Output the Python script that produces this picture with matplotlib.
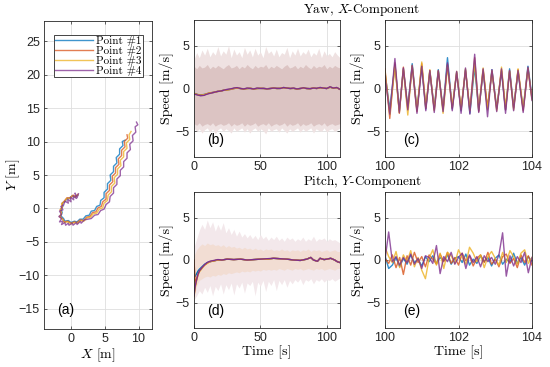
import matplotlib
matplotlib.use('Agg')
import matplotlib.pyplot as plt
import numpy as np

plt.rcParams['mathtext.fontset'] = 'cm'
plt.rcParams['font.family'] = ['Liberation Sans', 'DejaVu Sans']
plt.rcParams['axes.unicode_minus'] = True

# Colores por defecto de MATLAB
colores = ['#0072BD', '#D95319', '#EDB120', '#7E2F8E']
etiquetas = ['Point #1', 'Point #2', 'Point #3', 'Point #4']
serif = 'cmr10'

# --- (a) trayectorias ---
p1_x = [1.0, 0.6, 0.2, -0.2, -0.6, -0.9, -1.3, -1.2, -1.5, -1.3, -1.5, -1.1, -0.9, -0.4, 0.0, 0.5, 0.9, 1.3, 1.8,
        2.2, 2.7, 3.0, 3.5, 3.8, 4.3, 4.4, 4.9, 4.9, 5.4, 5.4, 5.9, 5.8, 6.3, 6.3, 6.8, 6.7, 7.2, 7.2, 7.7, 7.6, 8.0]
p1_y = [2.0, 1.7, 1.9, 1.5, 1.5, 1.0, 0.8, 0.3, -0.1, -0.6, -1.1, -1.5, -1.9, -1.8, -2.1, -1.9, -2.0, -1.6, -1.6,
        -1.1, -1.0, -0.4, -0.3, 0.3, 0.5, 1.2, 1.6, 2.4, 2.9, 3.7, 4.2, 5.0, 5.5, 6.3, 6.8, 7.6, 8.1, 8.9, 9.4, 10.0, 10.2]
p2_x = [1.0, 0.7, 0.3, -0.1, -0.6, -1.0, -1.3, -1.3, -1.6, -1.4, -1.6, -1.2, -1.0, -0.5, 0.0, 0.5, 0.9, 1.4, 1.9,
        2.3, 2.8, 3.2, 3.7, 4.0, 4.5, 4.7, 5.2, 5.2, 5.7, 5.7, 6.2, 6.1, 6.6, 6.6, 7.1, 7.0, 7.5, 7.5, 8.0, 7.9, 8.4, 8.3]
p2_y = [2.1, 1.8, 2.0, 1.6, 1.6, 1.1, 0.8, 0.2, -0.2, -0.7, -1.2, -1.6, -2.0, -1.9, -2.2, -2.0, -2.1, -1.7, -1.8,
        -1.3, -1.2, -0.6, -0.5, 0.1, 0.3, 1.0, 1.4, 2.2, 2.7, 3.5, 4.0, 4.8, 5.3, 6.1, 6.6, 7.4, 7.9, 8.7, 9.2, 10.0, 10.5, 11.0]
p3_x = [1.0, 0.6, 0.2, -0.2, -0.6, -1.0, -1.4, -1.3, -1.6, -1.4, -1.7, -1.2, -1.0, -0.5, 0.0, 0.5, 1.0, 1.4, 1.9,
        2.4, 2.9, 3.3, 3.8, 4.2, 4.7, 4.9, 5.4, 5.5, 6.0, 6.0, 6.5, 6.4, 6.9, 6.9, 7.4, 7.3, 7.8, 7.8, 8.3, 8.2, 8.7, 8.6, 8.9]
p3_y = [2.0, 1.7, 1.9, 1.5, 1.5, 1.0, 0.7, 0.2, -0.2, -0.7, -1.2, -1.7, -2.1, -2.0, -2.3, -2.1, -2.2, -1.8, -1.9,
        -1.4, -1.3, -0.8, -0.7, -0.1, 0.1, 0.8, 1.2, 2.0, 2.5, 3.3, 3.8, 4.6, 5.1, 5.9, 6.4, 7.2, 7.7, 8.5, 9.0, 9.8, 10.3, 11.0, 11.5]
p4_x = [1.1, 0.9, 0.6, 0.8, 0.3, 0.4, -0.1, 0.0, -0.5, -0.4, -0.9, -1.1, -1.5, -1.2, -1.7, -1.4, -1.8, -1.4, -1.7,
        -1.2, -1.4, -0.9, -0.8, -0.4, -0.3, 0.2, 0.3, 0.8, 0.9, 1.4, 1.5, 2.0,
        2.5, 3.0, 3.5, 4.0, 4.4, 4.9, 5.2, 5.7, 5.8, 6.3, 6.3, 6.8, 6.8, 7.3, 7.3, 7.8, 7.8, 8.3, 8.3, 8.8, 8.7,
        9.2, 9.1, 9.6, 9.5, 9.9, 9.7]
p4_y = [2.2, 1.6, 2.3, 1.5, 1.9, 1.3, 1.7, 1.0, 1.4, 0.8, 1.1, 0.5, 0.3, -0.2, -0.4, -0.9, -1.2, -1.5, -2.0,
        -1.9, -2.4, -2.1, -2.5, -2.2, -2.5, -2.2, -2.5, -2.1, -2.4, -1.9, -2.2, -1.7,
        -1.6, -1.5, -1.0, -0.9, -0.3, -0.1, 0.6, 1.0, 1.8, 2.3, 3.1, 3.6, 4.4, 4.9, 5.7, 6.2, 7.0, 7.5, 8.3, 8.8, 9.6,
        10.1, 10.9, 11.4, 12.2, 12.5, 12.9]

# --- (b) yaw, componente X ---
b_up_out = [3.4, 4.2, 3.6, 4.5, 3.9, 4.7, 3.7, 4.3, 3.9, 4.9, 3.8, 4.4, 4.0, 5.0, 3.6, 4.6, 3.9, 4.3, 3.6, 4.8,
            4.0, 4.5, 3.7, 4.7, 3.9, 4.3, 3.6, 4.9, 4.1, 4.4, 3.8, 4.6, 3.7, 4.2, 4.0, 4.8, 3.6, 4.4, 3.9, 4.7,
            3.8, 4.3, 4.0, 4.6, 3.7, 4.2, 3.9, 4.7, 3.6, 4.4, 3.8, 4.1, 3.7, 4.3, 3.9, 3.6]
b_up_in = [2.6, 2.3, 2.7, 2.4, 2.5, 2.8, 2.3, 2.6, 2.4, 2.7, 2.5, 2.3, 2.6, 2.8, 2.4, 2.5, 2.7, 2.3, 2.6, 2.4,
           2.8, 2.5, 2.3, 2.7, 2.4, 2.6, 2.5, 2.8, 2.3, 2.6, 2.4, 2.7, 2.5, 2.3, 2.6, 2.8, 2.4, 2.5, 2.7, 2.3,
           2.6, 2.4, 2.8, 2.5, 2.3, 2.7, 2.4, 2.6, 2.5, 2.8, 2.3, 2.6, 2.4, 2.7, 2.5, 2.4]
b_lo_in = [-4.1, -4.3, -4.0, -4.4, -4.2, -4.1, -4.3, -4.0, -4.4, -4.2, -4.1, -4.3, -4.2, -4.0, -4.4, -4.1, -4.3,
           -4.2, -4.0, -4.4, -4.1, -4.3, -4.2, -4.0, -4.4, -4.2, -4.1, -4.3, -4.0, -4.4, -4.2, -4.1, -4.3, -4.2,
           -4.0, -4.4, -4.1, -4.3, -4.2, -4.0, -4.4, -4.1, -4.3, -4.2, -4.0, -4.4, -4.2, -4.1, -4.3, -4.0, -4.4,
           -4.2, -4.1, -4.3, -4.2, -4.1]
b_lo_out = [-4.6, -5.0, -4.7, -5.2, -4.8, -4.6, -5.1, -4.7, -5.3, -4.8, -4.6, -5.0, -4.7, -4.9, -5.2, -4.6, -5.0,
            -4.8, -4.6, -5.1, -4.7, -5.2, -4.8, -4.6, -5.0, -4.7, -4.9, -5.3, -4.6, -5.0, -4.8, -4.7, -5.1, -4.6,
            -4.9, -5.2, -4.7, -5.0, -4.8, -4.6, -5.1, -4.7, -5.0, -4.8, -4.6, -5.2, -4.7, -4.9, -5.0, -4.6, -5.1,
            -4.8, -4.7, -5.0, -4.8, -4.6]
b_mean = [
    [-0.55, -0.7, -0.75, -0.7, -0.6, -0.5, -0.45, -0.35, -0.3, -0.2, -0.15, -0.1, 0.0, 0.05, 0.0, -0.05, 0.0, 0.02,
     -0.05, 0.0, 0.02, 0.0, -0.03, 0.0, 0.05, 0.0, 0.02, 0.1, 0.05, 0.0, 0.02, -0.05, 0.0, 0.05, 0.0, -0.02, 0.05,
     0.0, 0.1, 0.05, 0.0, 0.15, 0.05, 0.1, -0.1],
    [-0.6, -0.7, -0.8, -0.75, -0.6, -0.5, -0.45, -0.35, -0.3, -0.2, -0.15, -0.1, 0.0, 0.05, 0.0, -0.05, 0.0, 0.02,
     -0.05, 0.0, 0.02, 0.0, -0.03, 0.0, 0.05, 0.0, 0.02, 0.1, 0.05, 0.0, 0.02, -0.05, 0.0, 0.05, 0.0, -0.02, 0.05,
     0.0, 0.1, 0.05, 0.0, 0.15, 0.05, 0.1, -0.1],
    [-0.6, -0.72, -0.8, -0.72, -0.6, -0.5, -0.45, -0.35, -0.3, -0.2, -0.15, -0.1, 0.0, 0.05, 0.0, -0.05, 0.0, 0.02,
     -0.05, 0.0, 0.02, 0.0, -0.03, 0.0, 0.05, 0.0, 0.02, 0.1, 0.05, 0.0, 0.02, -0.05, 0.0, 0.05, 0.0, -0.02, 0.05,
     0.0, 0.1, 0.05, 0.0, 0.15, 0.05, 0.1, -0.1],
    [-0.65, -0.75, -0.85, -0.8, -0.65, -0.55, -0.45, -0.35, -0.3, -0.2, -0.1, -0.05, 0.05, 0.1, 0.0, -0.05, 0.05, 0.0,
     -0.05, 0.05, 0.0, 0.02, -0.05, 0.0, 0.05, 0.02, 0.0, 0.12, 0.05, 0.0, 0.05, -0.05, 0.0, 0.08, 0.0, -0.02, 0.05,
     0.02, 0.12, 0.05, 0.0, 0.2, 0.05, 0.12, -0.1],
]

# --- (c) yaw, zoom 100-104 s ---
c_t = [100.0, 100.13, 100.27, 100.39, 100.5, 100.62, 100.74, 100.87, 101.0, 101.11, 101.22, 101.34, 101.45,
       101.58, 101.7, 101.83, 101.95, 102.07, 102.19, 102.31, 102.44, 102.55, 102.67, 102.79, 102.91, 103.04,
       103.17, 103.28, 103.39, 103.5, 103.62, 103.76, 103.89, 104.0]
c_vals = [
    [1.8, -2.4, 2.8, -2.6, 2.3, -2.2, 2.9, -2.5, 2.6, -2.4, 2.0, -2.3, 2.2, -2.5, 3.6, -2.4, 1.9, -2.6, 2.2, -2.9,
     2.5, -2.6, 2.0, -2.4, 2.2, -2.3, 2.0, -2.5, 2.3, -2.2, 2.0, -2.4, 2.6, -1.0],
    [2.3, -3.5, 3.0, -2.9, 2.5, -2.4, 2.6, -2.7, 2.9, -2.3, 2.1, -2.5, 2.0, -2.4, 2.8, -2.3, 1.8, -2.4, 2.1, -2.5,
     3.6, -2.7, 2.2, -2.2, 2.0, -2.4, 2.2, -2.5, 2.0, -2.3, 2.2, -2.6, 2.3, -1.2],
    [2.0, -3.0, 2.6, -2.8, 2.2, -3.1, 2.7, -2.6, 3.1, -2.2, 2.2, -2.6, 2.1, -2.9, 2.5, -2.1, 2.0, -2.5, 2.3, -2.6,
     3.0, -2.4, 2.4, -2.5, 2.1, -2.6, 2.5, -2.2, 2.1, -2.5, 2.3, -2.3, 2.4, -1.3],
    [1.5, -3.0, 3.5, -2.8, 2.4, -2.5, 2.7, -2.9, 2.6, -2.6, 2.1, -2.8, 2.1, -2.7, 3.0, -2.6, 2.0, -2.9, 2.4, -3.0,
     4.0, -2.8, 2.3, -3.3, 2.2, -2.7, 2.3, -2.9, 2.1, -2.6, 2.1, -2.8, 2.5, -1.4],
]

# --- (d) pitch, componente Y ---
d_up_out = [1.5, 2.5, 3.5, 4.2, 3.6, 4.7, 3.8, 4.5, 3.4, 4.2, 3.5, 4.4, 3.2, 3.8, 3.0, 3.6, 2.8, 3.4, 2.7, 3.1,
            2.6, 3.0, 2.5, 2.9, 2.4, 3.0, 2.5, 2.8, 2.3, 2.7, 2.4, 2.8, 2.3, 2.6, 2.2, 2.7, 2.4, 2.6, 2.2, 2.5,
            2.3, 2.7, 2.2, 2.5, 2.3, 2.8, 2.2, 2.5, 2.4, 2.6, 2.2, 2.5, 2.3, 2.4, 2.2, 2.0]
d_up_in = [0.5, 1.2, 1.6, 1.9, 1.7, 2.0, 1.8, 1.9, 1.7, 1.8, 1.6, 1.8, 1.5, 1.7, 1.5, 1.6, 1.4, 1.5, 1.3, 1.5,
           1.3, 1.4, 1.2, 1.4, 1.2, 1.3, 1.1, 1.3, 1.2, 1.3, 1.1, 1.2, 1.1, 1.3, 1.1, 1.2, 1.0, 1.2, 1.1, 1.2,
           1.0, 1.2, 1.1, 1.3, 1.0, 1.2, 1.1, 1.2, 1.0, 1.1, 1.2, 1.0, 1.1, 1.2, 1.0, 1.0]
d_lo_in = [-4.4, -3.0, -2.4, -2.2, -2.0, -1.9, -2.0, -1.8, -1.9, -1.7, -1.8, -1.6, -1.7, -1.5, -1.6, -1.5, -1.4,
           -1.5, -1.3, -1.4, -1.3, -1.4, -1.2, -1.3, -1.2, -1.3, -1.1, -1.2, -1.1, -1.2, -1.1, -1.2, -1.0, -1.1,
           -1.2, -1.0, -1.1, -1.2, -1.0, -1.1, -1.0, -1.2, -1.1, -1.0, -1.1, -1.2, -1.0, -1.1, -1.0, -1.2, -1.1,
           -1.0, -1.1, -1.2, -1.0, -1.0]
d_lo_out = [-4.7, -4.2, -3.6, -4.0, -3.2, -3.8, -3.0, -4.2, -3.1, -3.6, -2.8, -4.0, -2.9, -3.5, -2.7, -4.1, -2.8,
            -3.3, -2.6, -3.9, -2.7, -3.0, -2.5, -4.2, -2.6, -3.1, -2.4, -3.7, -2.5, -3.0, -2.3, -3.6, -2.4, -2.9,
            -2.3, -3.2, -2.4, -2.8, -2.3, -2.6, -2.2, -2.9, -2.3, -2.5, -2.2, -2.8, -2.3, -2.5, -2.2, -2.6, -2.3,
            -2.4, -2.2, -2.5, -2.3, -2.1]
d_tm = [0, 1, 2, 3, 4, 6, 8, 10, 12, 15, 18, 21, 25, 30, 35, 40, 45, 50, 55, 60, 65, 70, 75, 80, 85, 88, 90, 93,
        95, 98, 100, 103, 106, 108, 110]
d_mean = [
    [-2.0, -1.9, -1.6, -1.3, -1.1, -0.8, -0.5, -0.3, -0.2, -0.1, 0.0, 0.0, 0.1, 0.05, 0.1, 0.0, 0.05, 0.1, 0.1, 0.2,
     0.15, 0.1, 0.0, -0.05, 0.1, 0.3, 0.0, -0.15, 0.2, 0.05, 0.1, 0.2, 0.0, -0.2, -0.3],
    [0.0, -3.0, -2.2, -1.7, -1.3, -0.9, -0.6, -0.35, -0.2, -0.1, 0.0, 0.0, 0.1, 0.05, 0.1, 0.0, 0.05, 0.1, 0.1, 0.2,
     0.15, 0.1, 0.0, -0.05, 0.1, 0.3, 0.0, -0.15, 0.2, 0.05, 0.1, 0.2, 0.0, -0.2, -0.3],
    [-4.3, -3.2, -2.4, -1.8, -1.4, -1.0, -0.6, -0.4, -0.2, -0.1, 0.0, 0.0, 0.1, 0.05, 0.1, 0.0, 0.05, 0.1, 0.1, 0.2,
     0.15, 0.1, 0.0, -0.05, 0.1, 0.3, 0.0, -0.15, 0.2, 0.05, 0.1, 0.2, 0.0, -0.2, -0.3],
    [-4.2, -3.0, -2.3, -1.7, -1.3, -0.9, -0.55, -0.3, -0.15, -0.05, 0.05, 0.0, 0.1, 0.05, 0.1, 0.0, 0.05, 0.1, 0.15,
     0.2, 0.15, 0.1, 0.0, -0.05, 0.1, 0.3, 0.0, -0.15, 0.2, 0.05, 0.1, 0.2, 0.0, -0.2, -0.3],
]

# --- (e) pitch, zoom 100-104 s ---
e_vals = [
    [0.5, -1.0, -0.6, 0.3, -0.8, 0.2, -0.5, 0.6, -0.3, 0.1, -0.7, 0.4, -0.2, 0.5, -0.4, 0.3, -0.1, 0.6, -0.5, 0.2,
     0.4, -0.3, 0.7, -0.6, 0.1, -0.4, 0.5, -0.2, 0.3, -0.7, 0.2, 0.6, -0.5, 0.1, -0.3, 0.8, -0.4, 0.3, -0.6, 0.4, -0.2],
    [0.2, -0.4, 0.6, -0.9, 0.3, -1.7, 0.5, -0.6, 0.9, -0.3, 0.4, -0.8, 0.6, 0.1, -0.5, 0.7, -0.2, 0.9, -0.4, 0.3,
     -0.6, 0.8, -0.1, 0.5, -0.7, 0.2, 0.6, -0.3, 0.9, -0.5, 0.1, -0.8, 0.4, 0.7, -0.4, 0.2, -0.9, 0.6, -0.3, 0.5, -0.6],
    [1.5, 0.4, -0.3, 1.0, -0.9, 0.6, -0.2, 1.1, -0.8, 0.3, -1.2, -2.2, 0.2, 1.2, -0.6, 0.8, -1.0, 0.9, 0.5, -0.4,
     1.2, 0.3, -0.5, 1.5, 0.8, -0.2, 0.6, -0.9, 0.4, 1.0, 0.2, -0.6, 0.9, -0.3, 1.1, 0.4, -0.5, 0.8, 1.2, -0.4, 0.3],
    [0.0, 3.3, -0.2, 0.4, -0.6, 0.3, -0.3, 0.7, -0.5, 0.2, -1.0, 0.5, 0.3, -0.4, 1.7, -1.6, 0.4, -0.2, 0.9, -0.5,
     0.3, 0.8, -1.0, 0.6, -0.3, 0.4, -0.8, 0.5, -0.2, 0.3, -0.5, 0.6, 3.2, -1.9, 0.5, -0.7, 0.4, -0.3, 0.9, -1.5, 0.3],
]


def t_de(vals, t0, t1):
    return np.linspace(t0, t1, len(vals))


def estilo(ax, xticks, yticks):
    ax.set_xticks(xticks)
    ax.set_yticks(yticks)
    ax.grid(True, color='#dedede', linewidth=0.6)
    ax.set_axisbelow(True)
    ax.tick_params(direction='in', length=2.5, width=0.5, top=True, right=True,
                   labelsize=9, colors='#262626', pad=3)
    for s in ax.spines.values():
        s.set_linewidth(0.6)
        s.set_color('#262626')


W, H = 550, 367
fig = plt.figure(figsize=(5.5, 3.67), dpi=100)
LBL = 10


def caja(l, r, t, b):
    return fig.add_axes([l / W, 1 - b / H, (r - l) / W, (b - t) / H])


# (a)
ax_a = caja(44, 152, 21, 329)
for (xs, ys), c, lab in zip([(p1_x, p1_y), (p2_x, p2_y), (p3_x, p3_y), (p4_x, p4_y)], colores, etiquetas):
    ax_a.plot(xs, ys, color=c, lw=1.0, alpha=0.75, label=lab)
ax_a.set_xlim(-4, 12)
ax_a.set_ylim(-18, 28)
estilo(ax_a, [0, 5, 10], np.arange(-15, 26, 5))
ax_a.set_xlabel('$X$ [m]', family=serif, fontsize=LBL, labelpad=1)
ax_a.set_ylabel('$Y$ [m]', family=serif, fontsize=LBL)
ax_a.yaxis.set_label_coords(-0.2, 0.5)
ax_a.text(-2.0, -15.2, '(a)', fontsize=10, va='center')
leg = ax_a.legend(loc='upper left', bbox_to_anchor=(0.09, 0.955), prop={'family': serif, 'size': 8},
                  handlelength=3.4, handletextpad=0.3, borderpad=0.1, labelspacing=0.0,
                  fancybox=False, framealpha=1, edgecolor='#262626', borderaxespad=0)
leg.get_frame().set_linewidth(0.6)

# (b)
ax_b = caja(194, 340, 20, 157)
ax_b.fill_between(t_de(b_up_out, 0, 110), b_lo_out, b_up_out, color='#efe2e2', lw=0)
ax_b.fill_between(t_de(b_up_in, 0, 110), b_lo_in, b_up_in, color='#dcc4c3', lw=0)
for v, c in zip(b_mean, colores):
    ax_b.plot(t_de(v, 0, 110), v, color=c, lw=1.0)
ax_b.set_xlim(0, 110)
ax_b.set_ylim(-8, 8)
estilo(ax_b, [0, 50, 100], [-5, 0, 5])
ax_b.set_ylabel('Speed [m/s]', family=serif, fontsize=LBL, labelpad=1)
ax_b.text(10, -6.0, '(b)', fontsize=10, va='center')

# (c)
ax_c = caja(385, 532, 20, 157)
for v, c in zip(c_vals, colores):
    ax_c.plot(c_t, v, color=c, lw=1.0, alpha=0.8)
ax_c.set_xlim(100, 104)
ax_c.set_ylim(-8, 8)
estilo(ax_c, [100, 102, 104], [-5, 0, 5])
ax_c.set_ylabel('Speed [m/s]', family=serif, fontsize=LBL, labelpad=1)
ax_c.text(100.5, -6.0, '(c)', fontsize=10, va='center')

# (d)
ax_d = caja(194, 340, 192, 328)
ax_d.fill_between(t_de(d_up_out, 0, 110), d_lo_out, d_up_out, color='#f3e8eb', lw=0)
ax_d.fill_between(t_de(d_up_in, 0, 110), d_lo_in, d_up_in, color='#f2ddd3', lw=0)
for v, c in zip(d_mean, colores):
    ax_d.plot(d_tm, v, color=c, lw=1.0)
ax_d.set_xlim(0, 110)
ax_d.set_ylim(-8, 8)
estilo(ax_d, [0, 50, 100], [-5, 0, 5])
ax_d.set_ylabel('Speed [m/s]', family=serif, fontsize=LBL, labelpad=1)
ax_d.set_xlabel('Time [s]', family=serif, fontsize=LBL, labelpad=1)
ax_d.text(10, -6.0, '(d)', fontsize=10, va='center')

# (e)
ax_e = caja(385, 532, 192, 328)
for v, c in zip(e_vals, colores):
    ax_e.plot(t_de(v, 100, 104), v, color=c, lw=1.0, alpha=0.8)
ax_e.set_xlim(100, 104)
ax_e.set_ylim(-8, 8)
estilo(ax_e, [100, 102, 104], [-5, 0, 5])
ax_e.set_ylabel('Speed [m/s]', family=serif, fontsize=LBL, labelpad=1)
ax_e.set_xlabel('Time [s]', family=serif, fontsize=LBL, labelpad=1)
ax_e.text(100.5, -6.0, '(e)', fontsize=10, va='center')

fig.text(362 / W, 1 - 10 / H, 'Yaw, $X$-Component', family=serif, fontsize=9.5, ha='center', va='center')
fig.text(362 / W, 1 - 182 / H, 'Pitch, $Y$-Component', family=serif, fontsize=9.5, ha='center', va='center')

fig.savefig('out.png', dpi=100)
